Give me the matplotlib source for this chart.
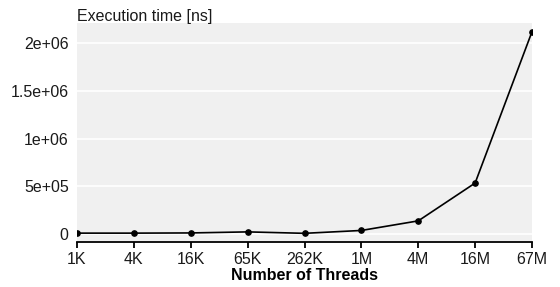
import numpy as np
import matplotlib
matplotlib.use("Agg")
import matplotlib.pyplot as plt

plt.rcParams['font.family'] = ['Liberation Sans', 'DejaVu Sans']

# data
threads = ["1K", "4K", "16K", "65K", "262K", "1M", "4M", "16M", "67M"]
exec_ns = [1.2e4, 1.2e4, 1.4e4, 2.5e4, 1.0e4, 4.0e4, 1.4e5, 5.35e5, 2.115e6]
yticks = [0, 5e5, 1e6, 1.5e6, 2e6]
ytick_labels = ["0", "5e+05", "1e+06", "1.5e+06", "2e+06"]

fig = plt.figure(figsize=(5.6, 2.87), dpi=100)
ax = fig.add_axes([77 / 560, 1 - 240.7 / 287, 455 / 560, (240.7 - 22.7) / 287])
ax.set_facecolor('#f0f0f0')

x = np.arange(len(threads))
ax.plot(x, exec_ns, color='black', lw=1.2, marker='o', markersize=3.8, zorder=3)

ax.set_xlim(0, len(threads) - 1)
ax.set_ylim(-6.7e4, 2.209e6)
ax.set_xticks(x)
ax.set_xticklabels(threads)
ax.set_yticks(yticks)
ax.set_yticklabels(ytick_labels)

ax.grid(axis='y', color='white', lw=1.2)
ax.set_axisbelow(True)
for s in ['top', 'right', 'left']:
    ax.spines[s].set_visible(False)
ax.spines['bottom'].set_linewidth(1.3)
ax.spines['bottom'].set_position(('outward', 1))

ax.tick_params(axis='y', length=0, pad=6, labelsize=11.5, labelcolor='#1a1a1a')
ax.tick_params(axis='x', length=4, width=1.3, pad=3, labelsize=11.5, labelcolor='#1a1a1a')

ax.set_xlabel("Number of Threads", fontsize=11.5, fontweight='bold', labelpad=1)
fig.text(77 / 560, 1 - 20.7 / 287, "Execution time [ns]", fontsize=11.5,
         ha='left', va='baseline', color='#1a1a1a')

plt.savefig("out.png", dpi=100)
